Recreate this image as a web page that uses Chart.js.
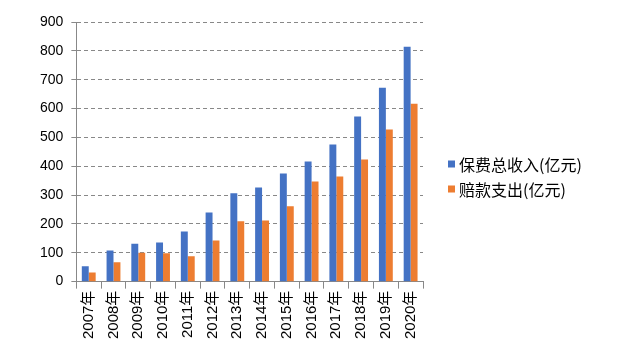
<!DOCTYPE html>
<html>
<head>
<meta charset="utf-8">
<script src="https://cdn.jsdelivr.net/npm/chart.js@4/dist/chart.umd.min.js"></script>
<style>
  html, body { margin: 0; padding: 0; background: #fff; }
  #wrap { width: 617px; height: 354px; }
</style>
</head>
<body>
<div id="wrap"><canvas id="myChart" width="617" height="354"></canvas></div>
<script>
const years = ['2007年', '2008年', '2009年', '2010年', '2011年', '2012年', '2013年',
  '2014年', '2015年', '2016年', '2017年', '2018年', '2019年', '2020年'];
const premium = [53, 108, 131, 136, 174, 240, 306, 326, 375, 416, 475, 572, 672, 814];
const claims = [32, 67, 100, 98, 88, 143, 209, 212, 261, 347, 364, 423, 527, 617];
const yTicks = [0, 100, 200, 300, 400, 500, 600, 700, 800, 900];

const data_bar = {
  labels: years,
  datasets: [{
    label: '保费总收入(亿元)',
    backgroundColor: '#4472C4',
    data: premium
  }, {
    label: '赔款支出(亿元)',
    backgroundColor: '#ED7D31',
    data: claims
  }]
};

// 오른쪽 범례 (직접 그림)
const sideLegend = {
  id: 'sideLegend',
  afterDraw(chart) {
    const ctx = chart.ctx;
    const x = chart.chartArea.right + 25;
    const midY = chart.height / 2;
    const rowGap = 25;
    ctx.save();
    ctx.font = '16px "Noto Sans CJK SC", sans-serif';
    ctx.textBaseline = 'middle';
    chart.data.datasets.forEach((ds, i) => {
      const y = midY - rowGap / 2 + i * rowGap;
      ctx.fillStyle = ds.backgroundColor;
      ctx.fillRect(x, y - 4, 7, 7);
      ctx.fillStyle = '#000';
      ctx.fillText(ds.label, x + 11, y);
    });
    ctx.restore();
  }
};

const options_bar = {
  responsive: false,
  maintainAspectRatio: false,
  animation: false,
  layout: { padding: { top: 22, left: 32, right: 194, bottom: 13 } },
  datasets: {
    bar: { categoryPercentage: 0.56, barPercentage: 1 }
  },
  plugins: {
    tooltip: { enabled: false },
    legend: { display: false }
  },
  scales: {
    x: {
      grid: { drawOnChartArea: false, offset: true, tickLength: 7, color: '#888' },
      border: { color: '#888' },
      ticks: {
        minRotation: 90, maxRotation: 90, color: '#000', padding: 2,
        font: { family: '"Liberation Sans", "Noto Sans CJK SC", sans-serif', size: 15 }
      }
    },
    y: {
      min: 0,
      max: 900,
      afterBuildTicks: (axis) => { axis.ticks = yTicks.map(v => ({ value: v })); },
      grid: { color: '#888', tickLength: 5 },
      border: { color: '#888', dash: [4, 3] },
      ticks: {
        color: '#000', padding: 8,
        font: { family: '"Liberation Sans", sans-serif', size: 14 }
      }
    }
  }
};

const ctx_bar = document.getElementById('myChart').getContext('2d');
const myChart_bar = new Chart(ctx_bar, {
  type: 'bar',
  data: data_bar,
  options: options_bar,
  plugins: [sideLegend]
});
</script>
</body>
</html>
